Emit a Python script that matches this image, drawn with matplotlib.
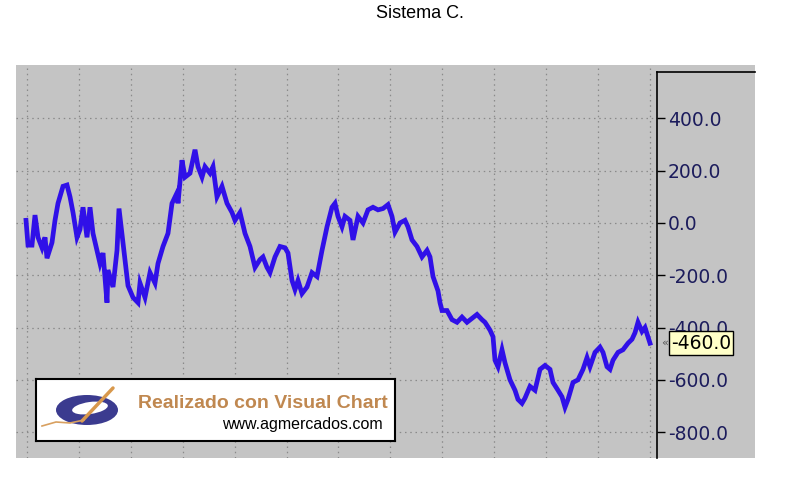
import matplotlib.pyplot as plt
import numpy as np
from matplotlib.patches import Ellipse, Rectangle
from matplotlib.transforms import blended_transform_factory

# bar number and equity value
bars = [0, 2, 6, 9, 12, 16, 19, 21, 26, 29, 32, 37, 41, 44, 47, 51, 54, 57, 61, 64,
        67, 74, 77, 81, 82, 87, 91, 93, 97, 102, 107, 112, 114, 119, 124, 129, 132, 137, 142, 146,
        151, 152, 156, 159, 164, 169, 172, 176, 179, 184, 187, 191, 196, 201, 206, 209, 214, 219, 224, 229,
        234, 237, 241, 244, 249, 254, 259, 262, 266, 269, 272, 276, 281, 286, 291, 296, 301, 306, 309, 312,
        316, 319, 324, 327, 332, 337, 342, 347, 352, 357, 362, 366, 369, 374, 379, 382, 386, 391, 396, 401,
        404, 407, 412, 414, 416, 421, 426, 431, 436, 441, 446, 451, 456, 459, 464, 467, 469, 472, 476, 479,
        484, 489, 492, 496, 499, 504, 509, 514, 519, 524, 527, 532, 536, 539, 542, 547, 552, 557, 561, 564,
        569, 574, 577, 581, 584, 587, 592, 597, 602, 606, 609, 612, 616, 619, 624]
values = [10, -85, -85, 30, -55, -95, -55, -135, -75, 10, 75, 140, 145, 100, 40, -55, -25, 60, -55, 60,
          -40, -155, -115, -305, -180, -245, -105, 55, -75, -240, -285, -305, -230, -285, -190, -230, -155, -90, -40, 75,
          115, 75, 240, 175, 190, 280, 215, 175, 215, 190, 215, 100, 140, 75, 40, 10, 40, -40, -90, -170,
          -140, -130, -170, -190, -130, -90, -95, -115, -220, -255, -220, -270, -245, -190, -205, -105, -15, 60, 75, 25,
          -15, 25, 10, -65, 25, 0, 50, 60, 50, 55, 70, 25, -35, 0, 10, -15, -65, -90, -130, -105,
          -130, -205, -260, -305, -335, -335, -370, -380, -360, -380, -365, -350, -370, -380, -410, -435, -525, -550, -485, -535,
          -600, -640, -675, -690, -670, -625, -640, -560, -545, -560, -610, -640, -665, -705, -675, -610, -600, -560, -515, -550,
          -495, -475, -495, -550, -560, -525, -495, -485, -460, -445, -420, -380, -415, -400, -460]

y_ticks = [400, 200, 0, -200, -400, -600, -800]
last_value = "-460.0"

W, H = 785, 480
fig = plt.figure(figsize=(7.85, 4.8), dpi=100)

grey = "#c4c4c4"
# grey panel behind plot and price scale
fig.patches.append(Rectangle((16 / W, 1 - 458 / H), (755 - 16) / W, (458 - 65) / H,
                             transform=fig.transFigure, facecolor=grey, edgecolor="none", zorder=-5))

ax = fig.add_axes([16 / W, 1 - 458 / H, (657 - 16) / W, (458 - 65) / H])
ax.set_facecolor(grey)
ax.plot(bars, values, color="#3010e8", lw=3.4, solid_joinstyle="miter", zorder=3)

ax.set_xlim(-10, 631)
ax.set_ylim(-899, 604)
ax.set_xticks(np.arange(1, 631, 51.9))
ax.set_yticks(y_ticks)
ax.set_yticklabels([f"{v:.1f}" for v in y_ticks])
ax.yaxis.tick_right()
ax.tick_params(axis="y", direction="out", length=6, width=1, colors="black",
               labelcolor="#1c1c5c", labelsize=13.5, pad=2)
ax.tick_params(axis="x", length=0, labelbottom=False)
ax.grid(True, color="#8a8a8a", lw=0.9, linestyle=(0, (1.2, 3)))
for s in ["top", "left", "bottom"]:
    ax.spines[s].set_visible(False)
ax.spines["right"].set_bounds(-899, 577)
ax.spines["right"].set_linewidth(1.2)

# top border of the price scale
fig.add_artist(plt.Line2D([657 / W, 755 / W], [1 - 72 / H, 1 - 72 / H], color="black", lw=1.2))

# last value marker
tr = blended_transform_factory(ax.transAxes, ax.transData)
ax.text(1 + 14 / 641, -460, last_value, transform=tr, ha="left", va="center", fontsize=13.5,
        color="black", zorder=6, clip_on=False,
        bbox=dict(boxstyle="square,pad=0.12", facecolor="#ffffc8", edgecolor="black", lw=1))
ax.text(1 + 4 / 641, -460, "«", transform=tr, ha="left", va="center", fontsize=8,
        color="#555555", clip_on=False)

fig.text(420 / W, 1 - 14 / H, "Sistema C.", ha="center", va="center", fontsize=13,
         family="Liberation Sans")

# logo box
lb = fig.add_axes([36 / W, 1 - 441 / H, (395 - 36) / W, (441 - 379) / H])
lb.set_xlim(0, 359)
lb.set_ylim(0, 62)
lb.set_facecolor("white")
lb.set_xticks([])
lb.set_yticks([])
for s in lb.spines.values():
    s.set_linewidth(1.5)
lb.add_patch(Ellipse((51, 31), 62, 30, facecolor="#3b3b8f", edgecolor="none"))
lb.add_patch(Ellipse((54, 33), 36, 12, angle=8, facecolor="white", edgecolor="none"))
lb.plot([46, 77], [20, 53], color="#d8984c", lw=2.5, solid_capstyle="round")
lb.plot([6, 20, 34, 48], [15, 19, 18, 21], color="#d8a060", lw=1.2)
lb.text(352, 37, "Realizado con Visual Chart", ha="right", va="center", fontsize=14,
        fontweight="bold", color="#c08850", family="Liberation Sans")
lb.text(347, 17, "www.agmercados.com", ha="right", va="center", fontsize=11.5,
        color="black", family="Liberation Sans")

fig.savefig("out.png", dpi=100)
